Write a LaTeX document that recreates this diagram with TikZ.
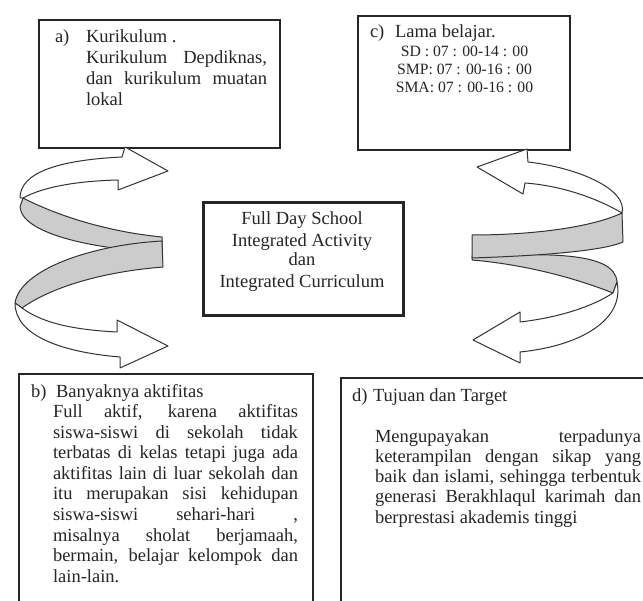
\documentclass[tikz,border=0pt]{standalone}
\usepackage{fontspec}
\setmainfont{Liberation Serif}
\newcommand{\jline}[2]{\makebox[#1][s]{#2}}
\tikzset{
  boxframe/.style={draw=black!85, line width=1.6pt, inner sep=0pt, anchor=north west},
  band/.style={draw=black!80, line width=1pt, line join=round},
  whiteband/.style={band, fill=white},
  grayband/.style={band, fill=black!20},
  txt/.style={anchor=base west, inner sep=0pt, outer sep=0pt, text=black!85, font=\fontsize{18.5}{18.5}\selectfont},
  ctxt/.style={anchor=base, inner sep=0pt, outer sep=0pt, text=black!85, font=\fontsize{18.5}{18.5}\selectfont},
  smalltxt/.style={anchor=base, inner sep=0pt, outer sep=0pt, text=black!85, font=\fontsize{15.7}{15.7}\selectfont}
}
\begin{document}
\begin{tikzpicture}[x=1pt,y=-1pt]
\useasboundingbox (0,0) rectangle (643,601);
\clip (0,0) rectangle (643,601);
\fill[white] (0,0) rectangle (643,601);

% boxes
\node[boxframe, minimum width=241pt, minimum height=128pt] (boxa) at (38,19) {};
\node[boxframe, minimum width=212pt, minimum height=134pt] (boxc) at (357,15) {};
\node[boxframe, line width=2.6pt, minimum width=200pt, minimum height=113pt] (boxm) at (202,201) {};
\node[boxframe, minimum width=294pt, minimum height=240pt] (boxb) at (18,373) {};
\node[boxframe, minimum width=320pt, minimum height=240pt] (boxd) at (340,377) {};

% left spiral
\draw[grayband] (23,198) .. controls (60,217) and (110,232) .. (162,237) -- (162,252)
  .. controls (100,250) and (22,235) .. (20,207) -- cycle;
\draw[grayband] (162,241) .. controls (90,245) and (20,270) .. (15,303) -- (22,308)
  .. controls (50,288) and (100,272) .. (163,267) -- cycle;
\draw[whiteband] (118,180) -- (118,190) -- (168,171) -- (125,147) -- (122,157)
  .. controls (60,160) and (20,172) .. (20,198) -- (23,198)
  .. controls (45,186) and (80,181) .. (118,180) -- cycle;
\draw[whiteband] (22,308) .. controls (45,325) and (80,330) .. (117,332) -- (117,320)
  -- (168,346) -- (120,368) -- (120,357)
  .. controls (60,352) and (15,335) .. (15,303) -- cycle;

% right spiral
\draw[grayband] (472,256) .. controls (540,254) and (615,250) .. (617,282) -- (613,293)
  .. controls (580,280) and (530,265) .. (472,260) -- cycle;
\draw[grayband] (622,213) .. controls (590,228) and (530,235) .. (472,235) -- (472,258)
  .. controls (530,256) and (600,252) .. (623,242) -- cycle;
\draw[whiteband] (525,183) -- (523,194) -- (477,167) -- (527,149) -- (528,162)
  .. controls (580,168) and (628,190) .. (622,213)
  .. controls (600,200) and (565,186) .. (525,183) -- cycle;
\draw[whiteband] (613,293) .. controls (590,308) and (555,318) .. (520,322) -- (520,312)
  -- (473,340) -- (520,363) -- (520,352)
  .. controls (580,346) and (625,320) .. (617,282) -- cycle;

% box a text
\node[txt] (alab) at (55,43) {a)};
\node[txt] (a1) at (86,43) {Kurikulum .};
\node[txt] (a2) at (86,64) {\jline{181pt}{Kurikulum Depdiknas,}};
\node[txt] (a3) at (86,85) {\jline{181pt}{dan kurikulum muatan}};
\node[txt] (a4) at (86,106) {lokal};

% box c text
\node[txt] (clab) at (370,38) {c)};
\node[txt] (c1) at (395,38) {Lama belajar.};
\node[smalltxt] (c2) at (464.5,57) {SD : 07 : 00-14 : 00};
\node[smalltxt] (c3) at (464.5,75) {SMP: 07 : 00-16 : 00};
\node[smalltxt] (c4) at (464.5,93) {SMA: 07 : 00-16 : 00};

% centre text
\node[ctxt] (m1) at (302,225) {Full Day School};
\node[ctxt] (m2) at (302,247) {Integrated Activity};
\node[ctxt] (m3) at (302,266) {dan};
\node[ctxt] (m4) at (302,288) {Integrated Curriculum};

% box b text
\node[txt] (blab) at (31,398) {b)};
\node[txt] (b0) at (56,398) {Banyaknya aktifitas};
\node[txt] (b1) at (53,418) {\jline{245pt}{Full aktif, karena aktifitas}};
\node[txt] (b2) at (53,438.5) {\jline{245pt}{siswa-siswi di sekolah tidak}};
\node[txt] (b3) at (53,459) {\jline{245pt}{terbatas di kelas tetapi juga ada}};
\node[txt] (b4) at (53,479.5) {\jline{245pt}{aktifitas lain di luar sekolah dan}};
\node[txt] (b5) at (53,500) {\jline{245pt}{itu merupakan sisi kehidupan}};
\node[txt] (b6) at (53,520.5) {\jline{245pt}{siswa-siswi sehari-hari ,}};
\node[txt] (b7) at (53,541) {\jline{245pt}{misalnya sholat berjamaah,}};
\node[txt] (b8) at (53,561.5) {\jline{245pt}{bermain, belajar kelompok dan}};
\node[txt] (b9) at (53,582) {lain-lain.};

% box d text
\node[txt] (dlab) at (352,402) {d)};
\node[txt] (d0) at (373,402) {Tujuan dan Target};
\node[txt] (d1) at (375,443) {\jline{266pt}{Mengupayakan terpadunya}};
\node[txt] (d2) at (375,463) {\jline{266pt}{keterampilan dengan sikap yang}};
\node[txt] (d3) at (375,483) {\jline{266pt}{baik dan islami, sehingga terbentuk}};
\node[txt] (d4) at (375,503) {\jline{266pt}{generasi Berakhlaqul karimah dan}};
\node[txt] (d5) at (375,523) {berprestasi akademis tinggi};
\end{tikzpicture}
\end{document}
